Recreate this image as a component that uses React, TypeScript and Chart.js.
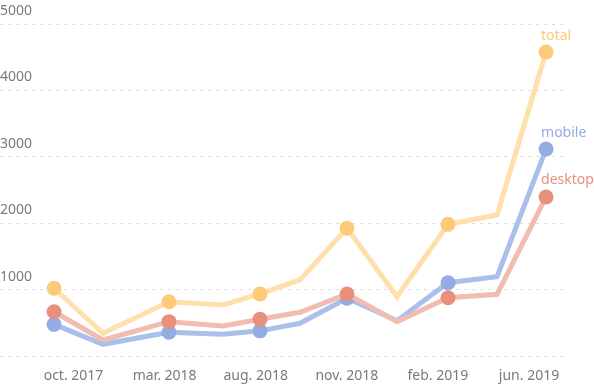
import React, { useEffect, useRef } from "react";
import { Chart, registerables } from "chart.js";

Chart.register(...registerables);

// x positions of the observations (tick units: 0 = oct. 2017 ... 5 = jun. 2019)
const xPositions = [-0.214, 0.324, 1.048, 1.641, 2.047, 2.486, 3.002, 3.551, 4.111, 4.649, 5.187];
const tickLabels = ["oct. 2017", "mar. 2018", "aug. 2018", "nov. 2018", "feb. 2019", "jun. 2019"];
const tickValues = [0, 1, 2, 3, 4, 5];
const yTicks = [0, 1000, 2000, 3000, 4000, 5000];

const totalValues = [1020, 342, 818, 768, 934, 1145, 1923, 893, 1983, 2123, 4578];
const mobileValues = [477, 176, 357, 327, 379, 492, 869, 532, 1104, 1194, 3117];
const desktopValues = [667, 241, 517, 452, 553, 658, 934, 517, 878, 929, 2395];
const markerIndices = [0, 2, 4, 6, 8, 10];

const seriesNames = ["total", "mobile", "desktop"];

const FONT = '"Noto Sans", sans-serif';

const endLabels = {
  id: "endLabels",
  afterDatasetsDraw(chart: any) {
    const ctx = chart.ctx;
    ctx.save();
    ctx.font = `14px ${FONT}`;
    ctx.textAlign = "left";
    ctx.textBaseline = "alphabetic";
    chart.data.datasets.forEach((ds: any, i: number) => {
      const meta = chart.getDatasetMeta(i);
      const pt = meta.data[meta.data.length - 1];
      if (!pt) return;
      ctx.fillStyle = ds.labelColor;
      ctx.fillText(ds.label, pt.x - 5, pt.y - 12.5);
    });
    ctx.restore();
  },
};

export default function App() {
  const ref = useRef<HTMLCanvasElement>(null);
  useEffect(() => {
    const toPts = (vals: number[]) => vals.map((v, i) => ({ x: xPositions[i], y: v }));
    const radius = (c: any) => (markerIndices.includes(c.dataIndex) ? 7.5 : 0);
    const chart = new Chart(ref.current!, {
      type: "line",
      data: {
        datasets: [
          {
            label: seriesNames[0],
            data: toPts(totalValues),
            borderColor: "#FFDFAB",
            backgroundColor: "#FFC97A",
            pointBackgroundColor: "#FFC97A",
            labelColor: "#FFC97A",
            order: 2,
          } as any,
          {
            label: seriesNames[1],
            data: toPts(mobileValues),
            borderColor: "#AABFEB",
            backgroundColor: "#93ACE3",
            pointBackgroundColor: "#93ACE3",
            labelColor: "#93ACE3",
            order: 1,
          } as any,
          {
            label: seriesNames[2],
            data: toPts(desktopValues),
            borderColor: "#F0BDB0",
            backgroundColor: "#E8907C",
            pointBackgroundColor: "#E8907C",
            labelColor: "#E8907C",
            order: 0,
          } as any,
        ].map((d) => ({
          ...d,
          borderWidth: 5,
          tension: 0,
          pointRadius: radius,
          pointHoverRadius: radius,
          pointBorderWidth: 0,
          fill: false,
        })),
      },
      options: {
        animation: false,
        responsive: true,
        maintainAspectRatio: false,
        layout: { autoPadding: false, padding: { top: 24, right: 31, bottom: 0, left: 0 } },
        plugins: { legend: { display: false }, tooltip: { enabled: false } },
        scales: {
          x: {
            type: "linear",
            min: -0.807,
            max: 5.373,
            afterBuildTicks: (scale: any) => {
              scale.ticks = tickValues.map((v) => ({ value: v }));
            },
            afterFit: (s: any) => {
              s.paddingLeft = 0;
              s.paddingRight = 0;
              s.height = 30;
            },
            grid: { display: false, drawTicks: false },
            border: { display: false },
            ticks: {
              padding: 12,
              color: "#7a7a7a",
              font: { family: FONT, size: 14 },
              maxRotation: 0,
              autoSkip: false,
              callback: (v: any) => {
                const i = tickValues.indexOf(Number(v));
                return i >= 0 ? tickLabels[i] : "";
              },
            },
          },
          y: {
            min: 0,
            max: 5000,
            afterBuildTicks: (scale: any) => {
              scale.ticks = yTicks.map((v) => ({ value: v }));
            },
            afterFit: (s: any) => {
              s.width = 0;
              s.paddingTop = 0;
              s.paddingBottom = 0;
            },
            grid: { color: "#dddddd", drawTicks: false, lineWidth: 1 },
            border: { display: false, dash: [3, 5] },
            ticks: {
              mirror: true,
              padding: 0,
              labelOffset: -13,
              color: "#7a7a7a",
              font: { family: FONT, size: 14 },
              callback: (v: any) => (Number(v) === 0 ? "" : String(v)),
            },
          },
        },
      },
      plugins: [endLabels],
    });
    return () => chart.destroy();
  }, []);
  return (
    <div style={{ position: "fixed", left: 0, top: 0, width: 594, height: 386, background: "#fff" }}>
      <canvas ref={ref} />
    </div>
  );
}
